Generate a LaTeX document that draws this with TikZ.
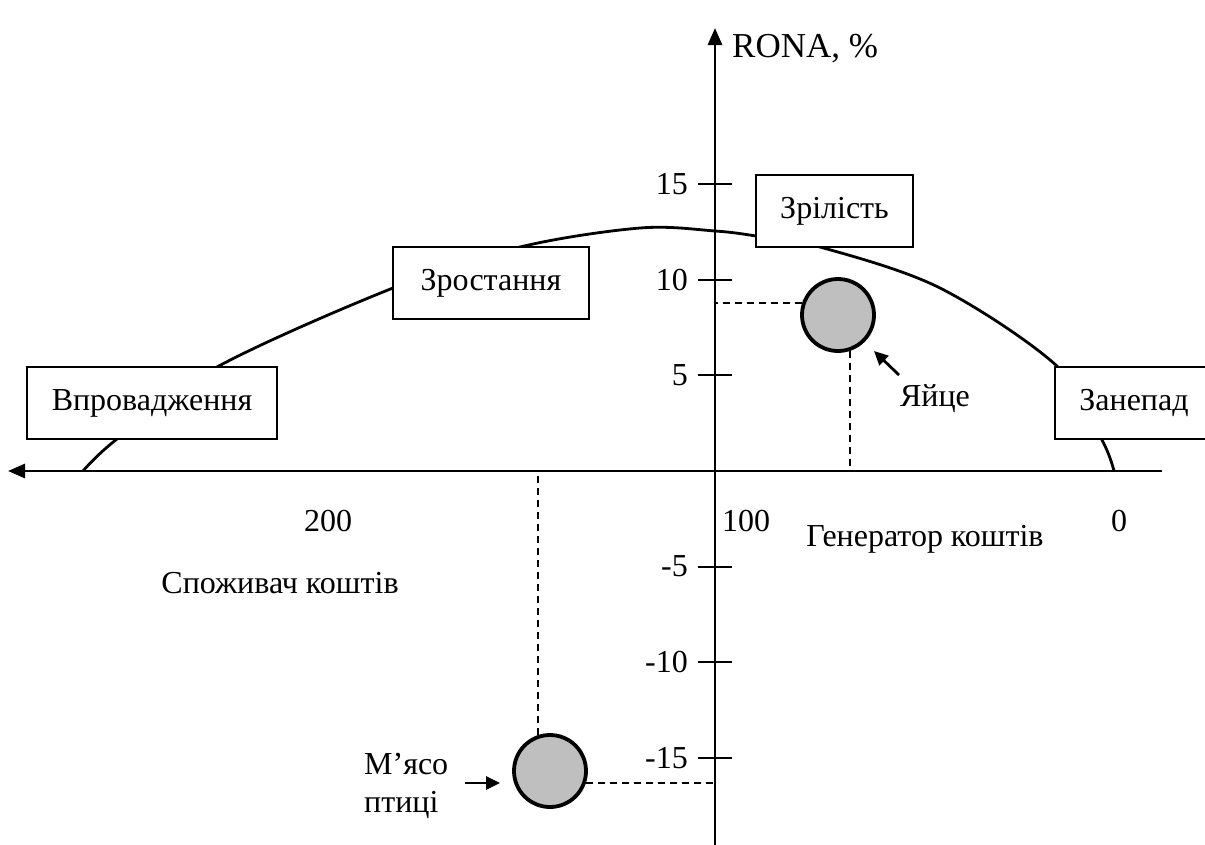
\documentclass[tikz,border=0pt]{standalone}
\usepackage{fontspec}
\setmainfont{Liberation Serif}
\usetikzlibrary{arrows.meta}
\definecolor{firmgray}{gray}{0.75}
\begin{document}
\begin{tikzpicture}[x=1pt,y=-1pt,
  lbl/.style={font=\fontsize{32}{38}\selectfont, inner sep=0pt},
  stagebox/.style={draw, line width=2.2pt, fill=white, minimum height=72pt, inner sep=0pt,
    text height=22pt, text depth=7pt, font=\fontsize{32}{38}\selectfont},
  axis/.style={line width=2.8pt, -{Triangle[length=17pt,width=14pt]}},
  tickmark/.style={line width=2.2pt},
  guide/.style={line width=1.8pt, dash pattern=on 7pt off 5pt},
  firm/.style={circle, draw, line width=3.8pt, fill=firmgray, minimum size=72pt, inner sep=0pt},
  pointer/.style={line width=2.8pt, -{Triangle[length=14pt,width=13pt]}},
]
\clip (0,0) rectangle (1205,844);
\fill[white] (0,0) rectangle (1205,844);

% axes
\coordinate (xr) at (1162,471);
\coordinate (xl) at (8,471);
\coordinate (yb) at (715,850);
\coordinate (yt) at (715,28);

% life-cycle curve (drawn first, the stage boxes cover it)
\draw[line width=2.8pt] plot[smooth, tension=0.55] coordinates
  {(83,471) (117,439) (217,367) (393,288) (520,247) (640,228) (715,231)
   (756,236) (820,247) (940,288) (1058,367) (1102,440) (1114,471)};

\draw[axis] (xr) -- (xl);
\draw[axis] (yb) -- (yt);

% ticks and values on the RONA axis
\foreach \v/\n in {15/a,10/b,5/c,-5/d,-10/e,-15/f} {
  \coordinate (t\n) at (715,471-19.13*\v);
  \draw[tickmark] ([xshift=-17pt]t\n) -- ([xshift=17pt]t\n);
  \node[lbl, anchor=east] (v\n) at ([xshift=-27pt]t\n) {\v};
}

\node[lbl, anchor=base west, font=\fontsize{35}{40}\selectfont] (rona) at (732,57) {RONA, \%};

% values on the horizontal axis
\node[lbl, anchor=base] (h200) at (328,531) {200};
\node[lbl, anchor=base] (h100) at (746,531) {100};
\node[lbl, anchor=base] (h0) at (1119,531) {0};
\node[lbl, anchor=base] (gen) at (925,546) {Генератор коштів};
\node[lbl, anchor=base] (cons) at (280,593) {Споживач коштів};

% stage boxes
\node[stagebox, minimum width=250pt] (intro) at (152,403) {Впровадження};
\node[stagebox, minimum width=196pt] (growth) at (491,283) {Зростання};
\node[stagebox, minimum width=157pt] (mature) at (834.5,211) {Зрілість};
\node[stagebox, minimum width=158pt] (decline) at (1134,403) {Занепад};

% products
\node[firm] (egg) at (838,315) {};
\node[firm] (meat) at (550,771) {};

\draw[guide] (egg.161) -- (egg.161 -| yt);
\draw[guide] (egg.-71) -- (egg.-71 |- xr);
\draw[guide] (meat.-19) -- (meat.-19 -| yt);
\draw[guide] (meat.109) -- (meat.109 |- xr);

% product labels
\node[lbl, anchor=base] (eggtxt) at (935,406) {Яйце};
\coordinate (eggtail) at (899,375);
\coordinate (eggtip) at (874,351);
\draw[pointer] (eggtail) -- (eggtip);

\node[lbl, anchor=base west] (meat1) at (364,774) {М’ясо};
\node[lbl, anchor=base west] (meat2) at (364,812) {птиці};
\coordinate (meattail) at (465,783);
\coordinate (meattip) at (500,783);
\draw[pointer] (meattail) -- (meattip);
\end{tikzpicture}
\end{document}
